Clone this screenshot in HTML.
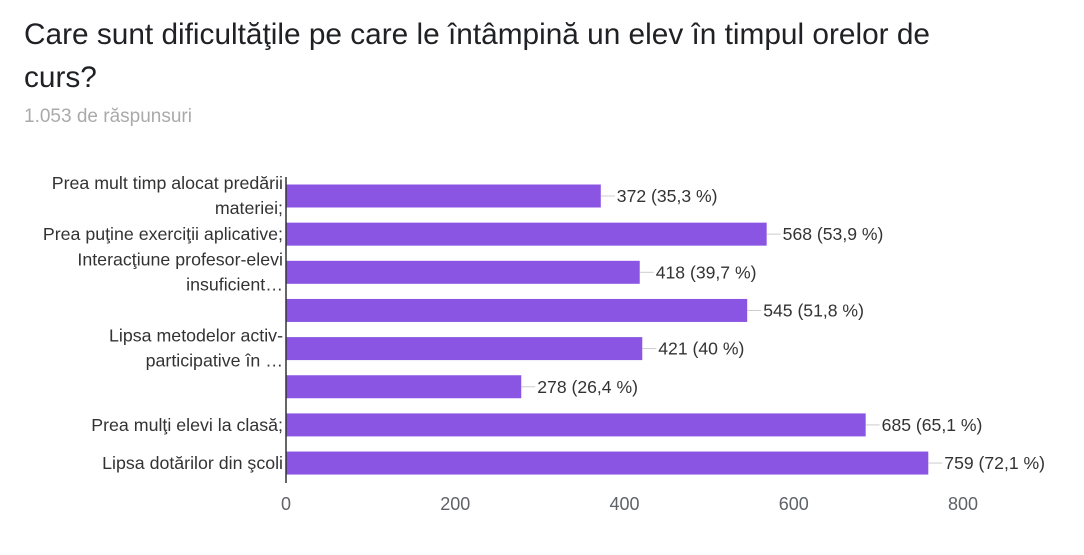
<!DOCTYPE html>
<html><head><meta charset="utf-8"><style>
body{margin:0;background:#fff;width:1084px;height:555px;overflow:hidden;font-family:"Liberation Sans",Arial,sans-serif}
#title{position:absolute;left:24px;top:13px;font-size:29.8px;line-height:43px;color:#202124;width:980px}
#sub{position:absolute;left:24px;top:106px;font-size:19px;color:#aaa}
svg{position:absolute;left:0;top:0}
</style></head><body>
<div id="title">Care sunt dificultăţile pe care le întâmpină un elev în timpul orelor de<br>curs?</div>
<div id="sub">1.053 de răspunsuri</div>
<svg id="chart" width="1084" height="555"></svg>
<script>
const categories=[["Prea mult timp alocat predării","materiei;"],["Prea puţine exerciţii aplicative;"],["Interacţiune profesor-elevi","insuficient…"],[],["Lipsa metodelor activ-","participative în …"],[],["Prea mulţi elevi la clasă;"],["Lipsa dotărilor din şcoli"]];
const values=[372,568,418,545,421,278,685,759];
const percents=["35,3","53,9","39,7","51,8","40","26,4","65,1","72,1"];
const ticks=[0,200,400,600,800];
const NS="http://www.w3.org/2000/svg",svg=document.getElementById('chart');
const x0=286,x1=963,xmax=800,y0=196,step=38.15,bh=23,F='Liberation Sans, Arial, sans-serif';
const xs=v=>x0+(x1-x0)*v/xmax, ys=i=>y0+i*step;
function mk(t,a){const e=document.createElementNS(NS,t);for(const k in a)e.setAttribute(k,a[k]);svg.appendChild(e);return e;}
ticks.forEach(t=>{const e=mk('text',{x:xs(t),y:510,'text-anchor':'middle','font-size':18,fill:'#5f6368','font-family':F});e.textContent=t;

});
values.forEach((v,i)=>{const y=ys(i);
const r=mk('rect',{x:x0,y:y-bh/2,width:xs(v)-x0,height:bh,fill:'#8b55e3'});


const l=mk('line',{x1:xs(v),x2:xs(v)+14,y1:y,y2:y,stroke:'#ccc','stroke-width':1});


const t=mk('text',{x:xs(v)+16,y:y+6,'font-size':17.6,fill:'#333','font-family':F});t.textContent=v+' ('+percents[i]+' %)';


const c=categories[i];
c.forEach((s,j)=>{const ly=c.length==1?y+6:y-13+j*25+6;
const e=mk('text',{x:283,y:ly,'text-anchor':'end','font-size':17.8,fill:'#333','font-family':F});e.textContent=s;

});
});
const ax=mk('line',{x1:x0,x2:x0,y1:177,y2:483,stroke:'#333','stroke-width':1.5});


</script>
</body></html>
